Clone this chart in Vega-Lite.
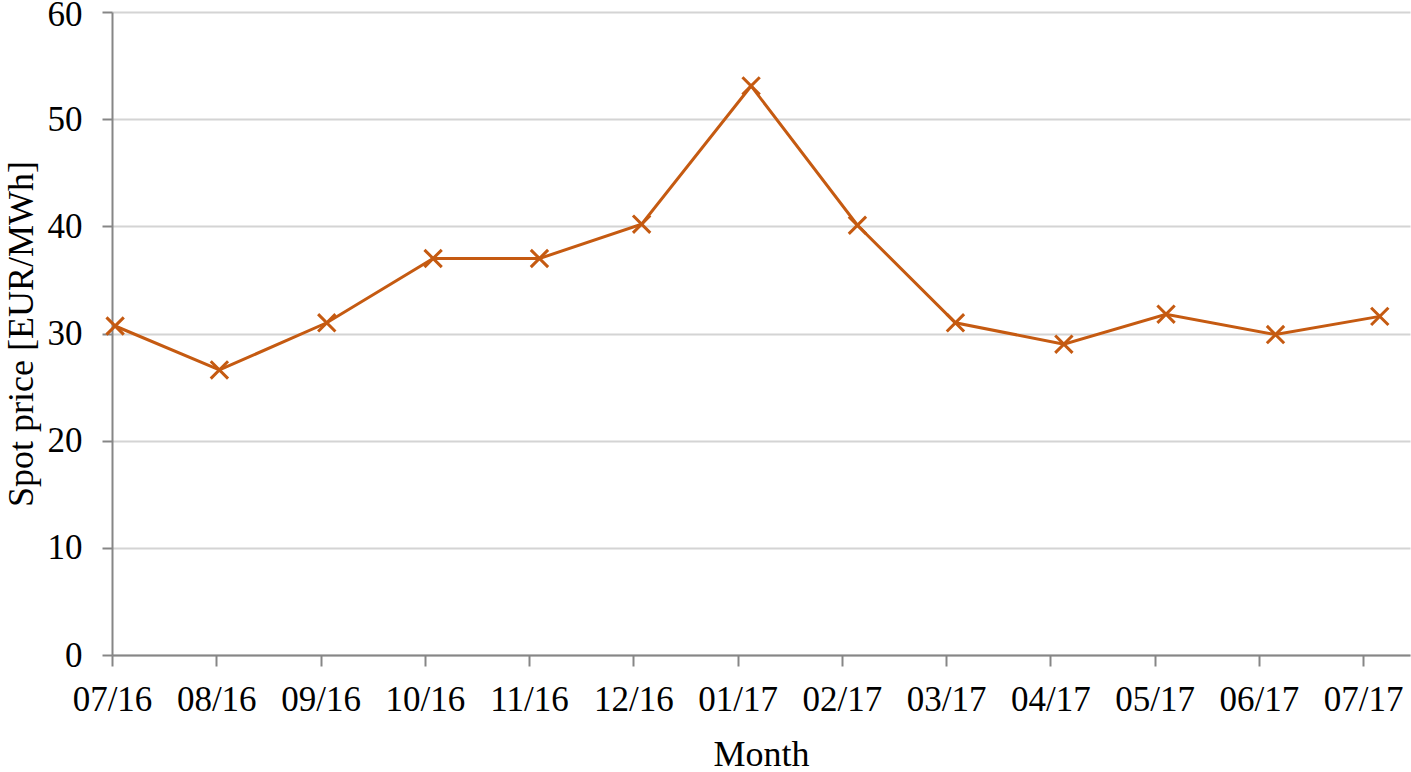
{
  "$schema": "https://vega.github.io/schema/vega-lite/v6.json",
  "width": 1298,
  "height": 643,
  "autosize": {"type": "none"},
  "padding": {"left": 112, "top": 12, "right": 1, "bottom": 117},
  "background": "white",
  "config": {
    "view": {"stroke": null},
    "font": "Liberation Serif",
    "axis": {
      "labelFont": "Liberation Serif",
      "titleFont": "Liberation Serif",
      "labelColor": "#000000",
      "titleColor": "#000000",
      "labelFontSize": 35,
      "titleFontSize": 36,
      "titleFontWeight": "normal",
      "domainColor": "#868686",
      "domainWidth": 2,
      "tickColor": "#868686",
      "tickWidth": 2,
      "tickSize": 11
    }
  },
  "data": {
    "values": [
      {"month": "07/16", "t": 0.03, "price": 30.7},
      {"month": "08/16", "t": 1.03, "price": 26.6},
      {"month": "09/16", "t": 2.06, "price": 31.0},
      {"month": "10/16", "t": 3.08, "price": 37.0},
      {"month": "11/16", "t": 4.10, "price": 37.0},
      {"month": "12/16", "t": 5.08, "price": 40.2},
      {"month": "01/17", "t": 6.13, "price": 53.1},
      {"month": "02/17", "t": 7.15, "price": 40.1},
      {"month": "03/17", "t": 8.09, "price": 31.0},
      {"month": "04/17", "t": 9.13, "price": 29.0},
      {"month": "05/17", "t": 10.11, "price": 31.8},
      {"month": "06/17", "t": 11.16, "price": 29.9},
      {"month": "07/17", "t": 12.16, "price": 31.6}
    ]
  },
  "encoding": {
    "x": {
      "field": "t",
      "type": "quantitative",
      "scale": {"domain": [0, 12.45], "nice": false, "zero": false},
      "axis": {
        "title": "Month",
        "values": [0, 1, 2, 3, 4, 5, 6, 7, 8, 9, 10, 11, 12],
        "labelExpr": "['07/16','08/16','09/16','10/16','11/16','12/16','01/17','02/17','03/17','04/17','05/17','06/17','07/17'][datum.value]",
        "grid": false,
        "labelPadding": 16,
        "titlePadding": 20,
        "labelFlush": false,
        "labelOverlap": false
      }
    },
    "y": {
      "field": "price",
      "type": "quantitative",
      "scale": {"domain": [0, 60], "nice": false},
      "axis": {
        "title": "Spot price [EUR/MWh]",
        "values": [0, 10, 20, 30, 40, 50, 60],
        "grid": true,
        "gridColor": "#D4D4D4",
        "gridWidth": 2,
        "tickSize": 10,
        "labelPadding": 20,
        "labelOffset": {"condition": {"test": "datum.value == 60", "value": 2}, "value": 0},
        "titlePadding": 7
      }
    }
  },
  "layer": [
    {"mark": {"type": "line", "color": "#C55A11", "strokeWidth": 3}},
    {
      "mark": {
        "type": "point",
        "shape": "M-1,-1L1,1M-1,1L1,-1",
        "filled": false,
        "stroke": "#C55A11",
        "strokeWidth": 3,
        "size": 300,
        "opacity": 1
      }
    }
  ]
}
